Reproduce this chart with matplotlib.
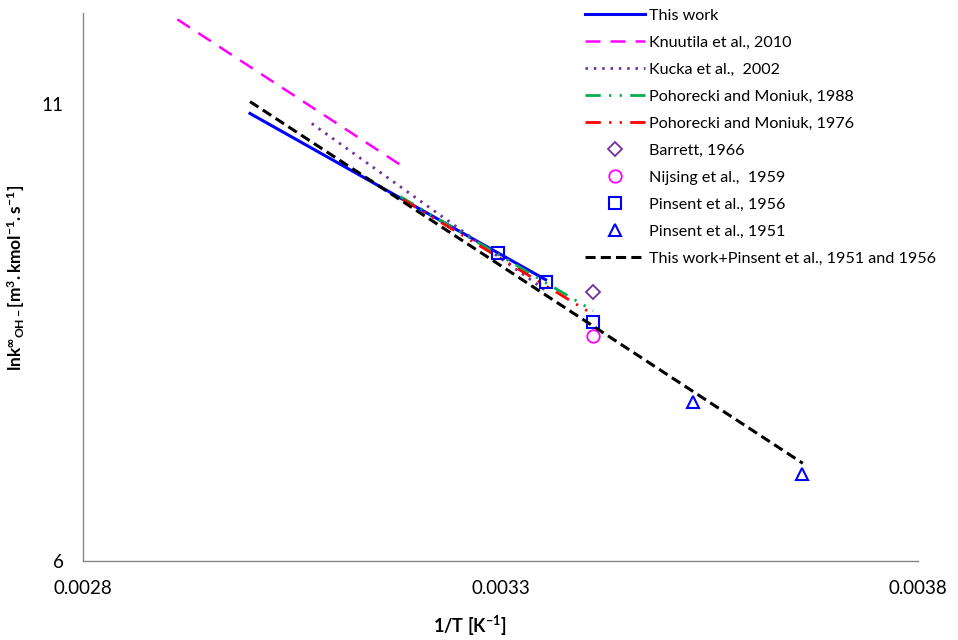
import matplotlib
matplotlib.use("Agg")
import matplotlib.pyplot as plt

plt.rcParams['font.family'] = ['Lato', 'DejaVu Sans']
plt.rcParams['mathtext.fontset'] = 'custom'
plt.rcParams['mathtext.rm'] = 'Lato'
plt.rcParams['mathtext.bf'] = 'Lato:bold'
plt.rcParams['mathtext.it'] = 'Lato:italic'

# Arrhenius lines: 1/T [K^-1] against ln k
this_work_x = [0.003000, 0.003354]
this_work_y = [10.90, 9.08]

knuutila_x = [0.002913, 0.003183]
knuutila_y = [11.93, 10.32]

kucka_x = [0.003074, 0.003356]
kucka_y = [10.79, 8.95]

pohorecki88_x = [0.003180, 0.003411]
pohorecki88_y = [9.99, 8.74]

pohorecki76_x = [0.003183, 0.003411]
pohorecki76_y = [9.96, 8.70]

# measured points
barrett_x = [0.003411]
barrett_y = [8.94]

nijsing_x = [0.003411]
nijsing_y = [8.46]

pinsent56_x = [0.003297, 0.003354, 0.003411]
pinsent56_y = [9.37, 9.05, 8.62]

pinsent51_x = [0.003530, 0.003661]
pinsent51_y = [7.74, 6.95]

combined_x = [0.003000, 0.003662]
combined_y = [11.03, 7.07]

fig = plt.figure(figsize=(9.58, 6.4), dpi=100)
ax = fig.add_axes([83 / 958, 1 - 561 / 640, 835 / 958, 548 / 640])

ax.plot(this_work_x, this_work_y, color='#0000FF', lw=2.2, label='This work')
ax.plot(knuutila_x, knuutila_y, color='#FF00FF', lw=1.8,
        linestyle=(0, (6, 4)), label='Knuutila et al., 2010')
ax.plot(kucka_x, kucka_y, color='#7030A0', lw=2.0,
        linestyle=(0, (0.9, 2.1)), label='Kucka et al.,  2002')
ax.plot(pohorecki88_x, pohorecki88_y, color='#00B050', lw=2.0,
        linestyle=(0, (5.5, 3, 0.8, 3, 0.8, 3)), label='Pohorecki and Moniuk, 1988')
ax.plot(pohorecki76_x, pohorecki76_y, color='#FF0000', lw=2.0,
        linestyle=(0, (5.5, 3, 0.8, 3, 0.8, 3)), label='Pohorecki and Moniuk, 1976')
ax.plot(barrett_x, barrett_y, linestyle='none', marker='D', markersize=7,
        markerfacecolor='none', markeredgecolor='#7030A0', markeredgewidth=1.3,
        label='Barrett, 1966')
ax.plot(nijsing_x, nijsing_y, linestyle='none', marker='o', markersize=9,
        markerfacecolor='none', markeredgecolor='#FF00FF', markeredgewidth=1.3,
        label='Nijsing et al.,  1959')
ax.plot(pinsent56_x, pinsent56_y, linestyle='none', marker='s', markersize=9,
        markerfacecolor='none', markeredgecolor='#0000FF', markeredgewidth=1.5,
        label='Pinsent et al., 1956')
ax.plot(pinsent51_x, pinsent51_y, linestyle='none', marker='^', markersize=9,
        markerfacecolor='none', markeredgecolor='#0000FF', markeredgewidth=1.5,
        label='Pinsent et al., 1951')
ax.plot(combined_x, combined_y, color='black', lw=2.2, linestyle=(0, (3.3, 1.7)),
        label='This work+Pinsent et al., 1951 and 1956')

ax.set_xlim(0.0028, 0.0038)
ax.set_ylim(6, 12)
ax.set_xticks([0.0028, 0.0033, 0.0038])
ax.set_xticklabels(['0.0028', '0.0033', '0.0038'])
ax.set_yticks([6, 11])
ax.tick_params(axis='both', length=0, labelsize=13.5, pad=14)

for side in ['top', 'right']:
    ax.spines[side].set_visible(False)
for side in ['left', 'bottom']:
    ax.spines[side].set_color('#868686')
    ax.spines[side].set_linewidth(1.0)

ax.set_xlabel(r'$\mathbf{1/T\ [K^{-1}]}$', fontsize=13)
ax.xaxis.set_label_coords(0.463, -0.097)
ax.set_ylabel(r'$\mathbf{lnk^{\infty}{}_{OH-}[m^{3}.kmol^{-1}.s^{-1}]}$', fontsize=12.5)
ax.yaxis.set_label_coords(-0.067, 0.516)

ax.legend(loc='upper left', bbox_to_anchor=(585 / 958, 0.987),
          bbox_transform=fig.transFigure, frameon=False, fontsize=11.6,
          handlelength=3.7, handletextpad=0.3, labelspacing=0.79,
          borderpad=0, borderaxespad=0)

fig.savefig('out.png', dpi=100)
